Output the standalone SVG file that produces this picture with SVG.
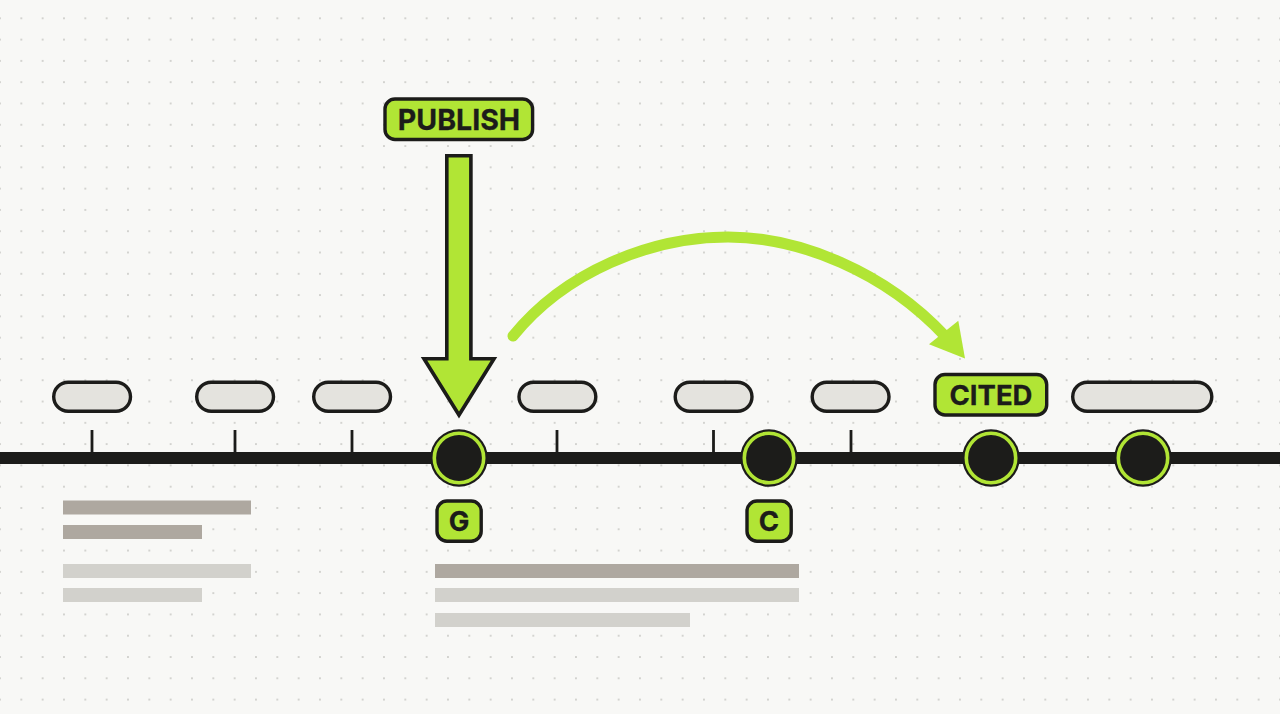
<svg xmlns="http://www.w3.org/2000/svg" width="1280" height="714" viewBox="0 0 1280 714">
<style>
.lab{fill:#b1e535;stroke:#1c1c1a;stroke-width:3.4}
.pill{fill:#e4e3de;stroke:#1c1c1a;stroke-width:3.4}
.txt{font-family:"Inter","Liberation Sans",sans-serif;font-weight:700;fill:#1c1c1a;stroke:#1c1c1a;stroke-width:.3;text-anchor:middle}
.tick{stroke:#1c1c1a;stroke-width:2.8;fill:none}
.dk{fill:#aea8a0}
.lt{fill:#d2d1cc}
.ring{fill:#1c1c1a;stroke:#b1e535;stroke-width:3.6}
.core{fill:#1c1c1a}
</style>
<defs>
<pattern id="dots" x="0" y="18.3" width="21.333" height="21.29" patternUnits="userSpaceOnUse">
<circle cx="0" cy="0" r="1" fill="#c8c8c4"/><circle cx="21.333" cy="0" r="1" fill="#c8c8c4"/><circle cx="0" cy="21.29" r="1" fill="#c8c8c4"/><circle cx="21.333" cy="21.29" r="1" fill="#c8c8c4"/>
</pattern>
</defs>
<rect width="1280" height="714" fill="#f8f8f6"/>
<rect width="1280" height="714" fill="url(#dots)"/>
<g id="bars">
<rect class="dk" x="63" y="500.500" width="188" height="14"/>
<rect class="dk" x="63" y="525" width="139" height="14"/>
<rect class="lt" x="63" y="564" width="188" height="14"/>
<rect class="lt" x="63" y="588" width="139" height="14"/>
<rect class="dk" x="435" y="564" width="364" height="14"/>
<rect class="lt" x="435" y="588" width="364" height="14"/>
<rect class="lt" x="435" y="613" width="255" height="14"/>
</g>
<g id="connectors">
<rect id="timeline" x="0" y="452" width="1280" height="12" fill="#1c1c1a"/>
<path class="tick" d="M92 430V453M235 430V453M352 430V453M557 430V453M713.500 430V453M851 430V453"/>
<path id="cited-arrow" d="M513 336C565 272 650 237 728 237C800 237 885 272 945 336" fill="none" stroke="#b1e535" stroke-width="11" stroke-linecap="round"/>
<polygon id="cited-head" points="965,358.500 958.300,320.700 929,344.300" fill="#b1e535"/>
<polygon id="publish-arrow" points="446.800,155.800 470.900,155.800 470.900,358.800 494,358.800 459,415 424,358.800 446.800,358.800" fill="#b1e535" stroke="#1c1c1a" stroke-width="3.600"/>
</g>
<g id="pill-1"><rect class="pill" x="53.700" y="382.300" width="76.800" height="29" rx="14.500"/></g>
<g id="pill-2"><rect class="pill" x="196.700" y="382.300" width="76.800" height="29" rx="14.500"/></g>
<g id="pill-3"><rect class="pill" x="313.700" y="382.300" width="76.800" height="29" rx="14.500"/></g>
<g id="pill-4"><rect class="pill" x="519" y="382.300" width="76.800" height="29" rx="14.500"/></g>
<g id="pill-5"><rect class="pill" x="675.200" y="382.300" width="76.800" height="29" rx="14.500"/></g>
<g id="pill-6"><rect class="pill" x="812.200" y="382.300" width="76.800" height="29" rx="14.500"/></g>
<g id="pill-7"><rect class="pill" x="1072.700" y="382.300" width="139.100" height="29" rx="14.500"/></g>
<g id="node-g"><circle class="core" cx="459" cy="458" r="28.800"/><circle class="ring" cx="459" cy="458" r="24.700"/></g>
<g id="node-c"><circle class="core" cx="769" cy="458" r="28.800"/><circle class="ring" cx="769" cy="458" r="24.700"/></g>
<g id="node-cited"><circle class="core" cx="991" cy="458" r="28.800"/><circle class="ring" cx="991" cy="458" r="24.700"/></g>
<g id="node-last"><circle class="core" cx="1143" cy="458" r="28.800"/><circle class="ring" cx="1143" cy="458" r="24.700"/></g>
<g id="label-publish"><rect class="lab" x="385" y="99" width="147.600" height="40.500" rx="10"/><text class="txt" x="459" y="130" font-size="28.500">PUBLISH</text></g>
<g id="label-cited"><rect class="lab" x="935" y="374.500" width="111.700" height="40.500" rx="10"/><text class="txt" x="991" y="405" font-size="27.500">CITED</text></g>
<g id="label-g"><rect class="lab" x="437" y="501" width="44.200" height="40.200" rx="10"/><text class="txt" x="459" y="531" font-size="27.500">G</text></g>
<g id="label-c"><rect class="lab" x="747" y="501" width="44.200" height="40.200" rx="10"/><text class="txt" x="769" y="531" font-size="27.500">C</text></g>
</svg>
